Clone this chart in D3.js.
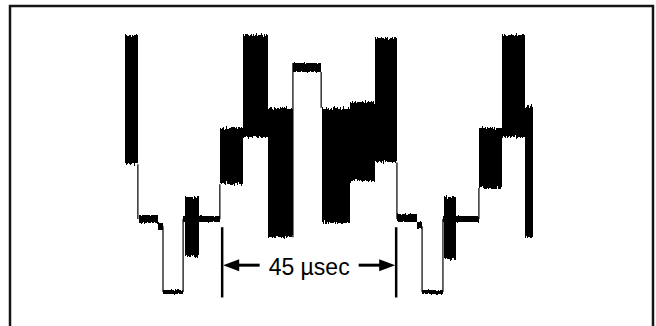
<!DOCTYPE html>
<html>
<head>
<meta charset="utf-8">
<script src="https://cdn.jsdelivr.net/npm/d3@7"></script>
<style>
  html, body { margin: 0; padding: 0; background: #fff; }
  svg { display: block; }
</style>
</head>
<body>
<svg id="chart" width="656" height="326"></svg>
<script>
// Two video lines on a scope. Time in µs from the first sync edge, level in IRE.
const bandStart = [-9.8, -6.3, -1.3, 0, 5.2, 5.7, 14.7, 20.7, 27.2, 33.6, 41.1, 48.4, 54.8, 60.6, 65.7, 67.0, 72.4, 72.7, 81.7, 87.7, 93.6];
const bandEnd   = [-6.5, -1.3, 0, 5.2, 14.7, 9.3, 20.7, 27.2, 33.6, 40.9, 48.4, 54.8, 60.5, 65.7, 67.0, 72.4, 81.7, 75.8, 87.7, 93.6, 95.7];
const bandHigh  = [101, 2, -2, -39, 1.5, 12, 50, 101, 61, 85.5, 61, 64, 99, 2.5, -1.5, -39, 1.5, 12, 50, 101, 62];
const bandLow   = [30, -2, -6, -41, -1.5, -21, 19, 45, -10, 80.5, -2, 21, 31, -1.5, -5.5, -41, -1.5, -22, 17, 45, -10];

// vertical transitions between levels
const edgeT    = [-6.5, 0, 5.2, 14.7, 33.6, 40.9, 60.5, 67.0, 72.4, 81.7];
const edgeFrom = [30, -4, -40, 0, -10, 80.5, 31, -4, -40, 0];
const edgeTo   = [0, -40, 0, 19, 85.5, 61, 0, -40, 0, 17];

// duration marker
const markerT = [15.3, 60.3];
const markerTop = -4.5, markerBottom = -43, arrowLevel = -25.3;
const markerLabel = '45 \u00b5sec';

const svg = d3.select('#chart');
const W = 656, H = 326;

const x = d3.scaleLinear().domain([0, 45]).range([163, 337]);
const y = d3.scaleLinear().domain([0, -40]).range([219, 292]);

// Defs — noise filters to rough up the band edges (vertical shift only)
const defs = svg.append('defs');
function noiseFilter(id, freq, amount, seed) {
  const f = defs.append('filter')
    .attr('id', id)
    .attr('filterUnits', 'userSpaceOnUse')
    .attr('x', 0).attr('y', 0).attr('width', W).attr('height', H)
    .attr('color-interpolation-filters', 'sRGB');
  f.append('feTurbulence')
    .attr('type', 'fractalNoise')
    .attr('baseFrequency', freq)
    .attr('numOctaves', 2)
    .attr('seed', seed)
    .attr('result', 'turb');
  f.append('feColorMatrix')
    .attr('in', 'turb')
    .attr('type', 'matrix')
    .attr('values', '0 0 0 0 0.5  0 1 0 0 0  0 0 0 0 0  0 0 0 0 1')
    .attr('result', 'noise');
  f.append('feDisplacementMap')
    .attr('in', 'SourceGraphic')
    .attr('in2', 'noise')
    .attr('scale', amount)
    .attr('xChannelSelector', 'R')
    .attr('yChannelSelector', 'G');
}
noiseFilter('rough', '0.9 0.03', 8, 4);
noiseFilter('fine', '0.7 0.05', 3, 9);

svg.append('rect').attr('width', W).attr('height', H).attr('fill', '#fff');

// Frame (bottom edge runs off the picture)
svg.append('rect')
  .attr('x', 10).attr('y', 6)
  .attr('width', 643).attr('height', 400)
  .attr('fill', 'none')
  .attr('stroke', '#151515')
  .attr('stroke-width', 2.5);

const bands = bandStart.map((s, i) => ({ s, e: bandEnd[i], hi: bandHigh[i], lo: bandLow[i] }));
const edges = edgeT.map((t, i) => ({ t, a: edgeFrom[i], b: edgeTo[i] }));

// Transitions — thin trace lines
svg.append('g').attr('class', 'edges')
  .selectAll('line')
  .data(edges).enter().append('line')
  .attr('x1', d => x(d.t)).attr('x2', d => x(d.t))
  .attr('y1', d => y(d.a)).attr('y2', d => y(d.b))
  .attr('stroke', '#000')
  .attr('stroke-width', 1.2);

// Bands
svg.append('g').attr('class', 'thin').attr('filter', 'url(#fine)')
  .selectAll('rect')
  .data(bands.filter(d => d.hi - d.lo < 10)).enter().append('rect')
  .attr('x', d => x(d.s)).attr('width', d => x(d.e) - x(d.s))
  .attr('y', d => y(d.hi)).attr('height', d => Math.max(2.5, y(d.lo) - y(d.hi)))
  .attr('shape-rendering', 'crispEdges')
  .attr('fill', '#000');

svg.append('g').attr('class', 'bands').attr('filter', 'url(#rough)')
  .selectAll('rect')
  .data(bands.filter(d => d.hi - d.lo >= 10)).enter().append('rect')
  .attr('x', d => x(d.s)).attr('width', d => x(d.e) - x(d.s))
  .attr('y', d => y(d.hi)).attr('height', d => y(d.lo) - y(d.hi))
  .attr('shape-rendering', 'crispEdges')
  .attr('fill', '#000');

// Marker — two bars, arrows and label
const mk = svg.append('g').attr('class', 'marker');
mk.selectAll('line')
  .data(markerT).enter().append('line')
  .attr('x1', d => x(d)).attr('x2', d => x(d))
  .attr('y1', y(markerTop)).attr('y2', y(markerBottom))
  .attr('stroke', '#000')
  .attr('stroke-width', 2.5);

const xL = x(markerT[0]), xR = x(markerT[1]), ay = y(arrowLevel);
const label = mk.append('text')
  .attr('x', (xL + xR) / 2)
  .attr('y', ay + 10)
  .attr('text-anchor', 'middle')
  .attr('font-family', "'Liberation Sans', Arial, sans-serif")
  .attr('font-size', '23px')
  .attr('fill', '#000')
  .text(markerLabel);
const tw = label.node().getComputedTextLength();
const tL = (xL + xR) / 2 - tw / 2 - 9, tR = (xL + xR) / 2 + tw / 2 + 9;

const headLen = 16, headHalf = 6;
mk.append('line')
  .attr('x1', xL + headLen).attr('x2', tL)
  .attr('y1', ay).attr('y2', ay)
  .attr('stroke', '#000').attr('stroke-width', 3);
mk.append('line')
  .attr('x1', tR).attr('x2', xR - headLen)
  .attr('y1', ay).attr('y2', ay)
  .attr('stroke', '#000').attr('stroke-width', 3);
mk.append('path')
  .attr('d', `M${xL + 1},${ay}L${xL + 1 + headLen},${ay - headHalf}L${xL + 1 + headLen},${ay + headHalf}Z`)
  .attr('fill', '#000');
mk.append('path')
  .attr('d', `M${xR - 1},${ay}L${xR - 1 - headLen},${ay - headHalf}L${xR - 1 - headLen},${ay + headHalf}Z`)
  .attr('fill', '#000');
</script>
</body>
</html>
